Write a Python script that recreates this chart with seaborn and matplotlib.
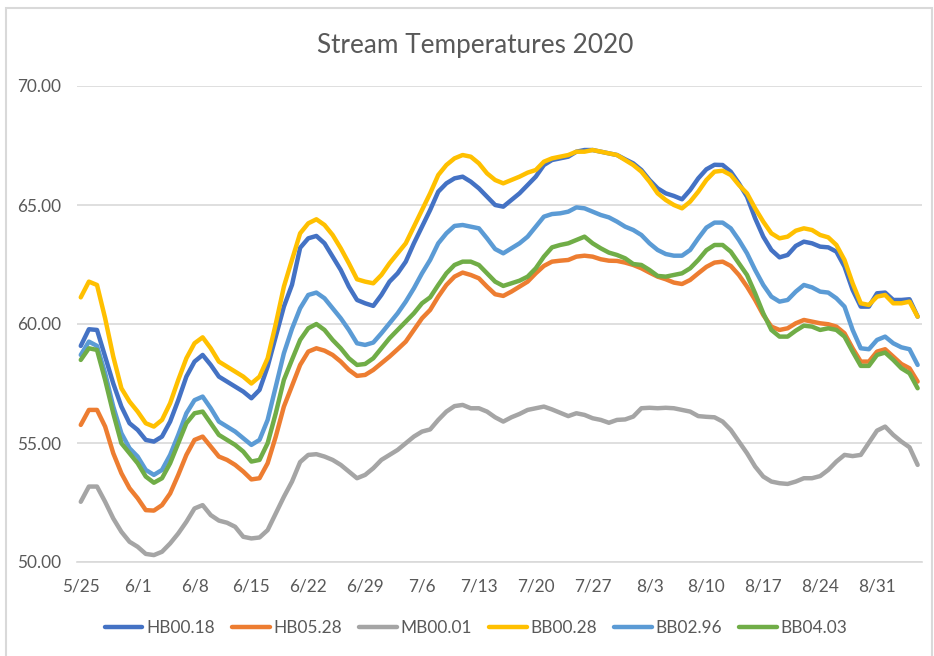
import pandas as pd
import numpy as np
import matplotlib
matplotlib.use('Agg')
import matplotlib.pyplot as plt
from matplotlib.patches import Rectangle
import seaborn as sns

# daily readings, 5/25 .. 9/5 (104 days)
start_date = '2020-05-25'
n_days = 104

hb00_18 = [59.08, 59.78, 59.75, 58.63, 57.5, 56.53, 55.83, 55.55, 55.13, 55.06, 55.27, 55.9, 56.8, 57.79, 58.42, 58.7, 58.28, 57.79, 57.58, 57.37, 57.16, 56.88, 57.23, 58.21, 59.47, 60.73, 61.65,
           63.2, 63.6, 63.7, 63.39, 62.83, 62.27, 61.57, 61.01, 60.87, 60.76, 61.22, 61.78, 62.13, 62.62, 63.39, 64.09, 64.79, 65.56, 65.91, 66.12, 66.19, 65.98, 65.7, 65.35, 65.0,
           64.93, 65.21, 65.49, 65.84, 66.19, 66.68, 66.89, 66.96, 67.03, 67.24, 67.31, 67.31, 67.24, 67.17, 67.1, 66.92, 66.75, 66.47, 66.05, 65.7, 65.49, 65.38, 65.24, 65.63, 66.12,
           66.5, 66.69, 66.68, 66.4, 65.91, 65.35, 64.44, 63.67, 63.11, 62.8, 62.9, 63.28, 63.46, 63.39, 63.25, 63.22, 63.04, 62.41, 61.43, 60.73, 60.73, 61.29, 61.32, 61.01, 61.01, 61.04, 60.31]
hb05_28 = [55.76, 56.39, 56.39, 55.69, 54.57, 53.73, 53.1, 52.68, 52.18, 52.16, 52.39, 52.88, 53.66, 54.5, 55.13, 55.27, 54.85, 54.43, 54.29, 54.08, 53.8, 53.47, 53.52, 54.15, 55.27, 56.53, 57.4,
           58.28, 58.84, 58.98, 58.88, 58.7, 58.42, 58.07, 57.82, 57.86, 58.07, 58.35, 58.63, 58.94, 59.26, 59.75, 60.24, 60.59, 61.15, 61.64, 61.99, 62.16, 62.06, 61.92, 61.57, 61.25,
           61.18, 61.36, 61.57, 61.78, 62.13, 62.44, 62.62, 62.66, 62.69, 62.83, 62.87, 62.83, 62.72, 62.66, 62.65, 62.58, 62.48, 62.34, 62.16, 61.99, 61.88, 61.74, 61.68, 61.85, 62.13,
           62.4, 62.58, 62.62, 62.44, 62.06, 61.57, 61.01, 60.38, 59.89, 59.75, 59.82, 60.03, 60.17, 60.1, 60.03, 59.99, 59.89, 59.61, 58.98, 58.42, 58.42, 58.84, 58.94, 58.63, 58.32, 58.14, 57.58]
mb00_01 = [52.53, 53.17, 53.17, 52.53, 51.83, 51.27, 50.85, 50.64, 50.34, 50.29, 50.43, 50.78, 51.2, 51.69, 52.25, 52.39, 51.97, 51.74, 51.65, 51.48, 51.06, 50.99, 51.03, 51.34, 52.04, 52.74, 53.38,
           54.2, 54.5, 54.53, 54.43, 54.29, 54.08, 53.8, 53.52, 53.66, 53.94, 54.29, 54.5, 54.71, 54.99, 55.27, 55.48, 55.57, 55.97, 56.32, 56.55, 56.6, 56.46, 56.46, 56.32, 56.08,
           55.9, 56.08, 56.22, 56.39, 56.46, 56.53, 56.41, 56.27, 56.13, 56.25, 56.18, 56.04, 55.97, 55.85, 55.97, 55.99, 56.11, 56.46, 56.48, 56.46, 56.48, 56.46, 56.39, 56.32, 56.13,
           56.1, 56.08, 55.9, 55.55, 55.06, 54.57, 54.01, 53.59, 53.38, 53.31, 53.28, 53.38, 53.52, 53.52, 53.61, 53.87, 54.22, 54.5, 54.45, 54.5, 55.01, 55.52, 55.69, 55.34, 55.06, 54.82, 54.08]
bb00_28 = [61.12, 61.78, 61.64, 60.24, 58.63, 57.3, 56.74, 56.32, 55.83, 55.69, 55.97, 56.67, 57.65, 58.56, 59.19, 59.44, 58.98, 58.42, 58.21, 58.0, 57.79, 57.5, 57.79, 58.56, 60.0, 61.57, 62.7,
           63.81, 64.23, 64.4, 64.16, 63.74, 63.18, 62.55, 61.88, 61.78, 61.71, 62.06, 62.55, 62.97, 63.39, 64.09, 64.79, 65.49, 66.26, 66.68, 66.96, 67.1, 67.03, 66.75, 66.33, 66.05,
           65.91, 66.05, 66.19, 66.36, 66.47, 66.82, 66.96, 67.03, 67.1, 67.24, 67.24, 67.31, 67.24, 67.17, 67.1, 66.89, 66.68, 66.4, 65.98, 65.49, 65.21, 65.0, 64.86, 65.14, 65.56,
           66.05, 66.4, 66.44, 66.26, 65.84, 65.49, 64.86, 64.3, 63.81, 63.6, 63.67, 63.92, 64.02, 63.95, 63.74, 63.64, 63.32, 62.69, 61.71, 60.87, 60.8, 61.15, 61.22, 60.87, 60.87, 60.94, 60.31]
bb02_96 = [58.7, 59.26, 59.08, 57.93, 56.53, 55.41, 54.78, 54.43, 53.87, 53.66, 53.87, 54.5, 55.34, 56.25, 56.8, 56.95, 56.46, 55.9, 55.69, 55.48, 55.2, 54.92, 55.13, 55.97, 57.37, 58.77, 59.8,
           60.66, 61.22, 61.32, 61.08, 60.66, 60.24, 59.75, 59.19, 59.12, 59.22, 59.61, 60.03, 60.45, 60.94, 61.5, 62.13, 62.69, 63.39, 63.81, 64.12, 64.16, 64.09, 64.02, 63.6, 63.15,
           62.97, 63.18, 63.39, 63.67, 64.09, 64.51, 64.62, 64.65, 64.72, 64.9, 64.86, 64.72, 64.58, 64.48, 64.3, 64.09, 63.95, 63.74, 63.39, 63.11, 62.94, 62.87, 62.87, 63.11, 63.6,
           64.05, 64.26, 64.26, 64.02, 63.53, 62.97, 62.27, 61.64, 61.15, 60.94, 61.01, 61.36, 61.64, 61.54, 61.36, 61.32, 61.08, 60.73, 59.75, 58.98, 58.94, 59.33, 59.47, 59.19, 59.02, 58.94, 58.28]
bb04_03 = [58.49, 58.98, 58.91, 57.65, 56.25, 54.99, 54.57, 54.15, 53.59, 53.33, 53.52, 54.15, 54.99, 55.83, 56.25, 56.32, 55.83, 55.34, 55.13, 54.92, 54.64, 54.22, 54.29, 54.99, 56.25, 57.65, 58.5,
           59.33, 59.82, 60.0, 59.75, 59.33, 58.98, 58.56, 58.28, 58.32, 58.56, 58.98, 59.4, 59.75, 60.1, 60.45, 60.87, 61.12, 61.64, 62.13, 62.48, 62.62, 62.62, 62.48, 62.13, 61.78,
           61.6, 61.71, 61.82, 61.99, 62.34, 62.83, 63.22, 63.32, 63.39, 63.53, 63.67, 63.39, 63.18, 63.0, 62.9, 62.76, 62.52, 62.48, 62.27, 62.02, 61.99, 62.06, 62.13, 62.34, 62.69,
           63.1, 63.32, 63.32, 63.04, 62.55, 62.06, 61.29, 60.45, 59.75, 59.47, 59.47, 59.72, 59.93, 59.89, 59.75, 59.82, 59.75, 59.47, 58.84, 58.24, 58.24, 58.7, 58.8, 58.49, 58.14, 57.93, 57.3]

site_names = ['HB00.18', 'HB05.28', 'MB00.01', 'BB00.28', 'BB02.96', 'BB04.03']
site_colors = ['#4472C4', '#ED7D31', '#A5A5A5', '#FFC000', '#5B9BD5', '#70AD47']
y_ticks = [50, 55, 60, 65, 70]

dates = pd.date_range(start_date, periods=n_days, freq='D')
wide = pd.DataFrame(dict(zip(site_names, [hb00_18, hb05_28, mb00_01, bb00_28, bb02_96, bb04_03])), index=dates)
wide.index.name = 'date'
df = wide.reset_index().melt(id_vars='date', var_name='site', value_name='temp')

sns.set_style('white')
plt.rcParams['font.family'] = ['Lato', 'DejaVu Sans']
txt = '#595959'
grid = '#D9D9D9'

fig = plt.figure(figsize=(9.34, 6.56), dpi=100)
ax = fig.add_axes([76.7 / 934, 1 - 562 / 656, (921.7 - 76.7) / 934, (562 - 86) / 656])

sns.lineplot(data=df, x='date', y='temp', hue='site', hue_order=site_names, palette=site_colors,
             linewidth=3.2, estimator=None, sort=False, legend=False, ax=ax)

half = pd.Timedelta(hours=12)
ax.set_xlim(dates[0] - half, dates[-1] + half)
ax.set_ylim(50, 70)
ax.set_yticks(y_ticks)
ax.set_yticklabels([f'{v:.2f}' for v in y_ticks])
week_dates = dates[::7]
ax.set_xticks(week_dates)
ax.set_xticklabels([f'{d.month}/{d.day}' for d in week_dates])
ax.set_xticks(week_dates - half, minor=True)
ax.tick_params(axis='x', which='major', length=0, pad=12, labelsize=12.4, labelcolor=txt)
ax.tick_params(axis='x', which='minor', length=5, width=1, color=grid, direction='out')
ax.tick_params(axis='y', length=0, pad=11, labelsize=12.4, labelcolor=txt)
ax.set_xlabel('')
ax.set_ylabel('')
ax.yaxis.grid(True, color=grid, linewidth=1.2)
ax.set_axisbelow(True)
for side in ['top', 'right', 'left']:
    ax.spines[side].set_visible(False)
ax.spines['bottom'].set_color(grid)
ax.spines['bottom'].set_linewidth(1.2)

fig.text(475 / 934, 1 - 45 / 656, 'Stream Temperatures 2020', ha='center', va='center', fontsize=18.8, color=txt)

handles = ax.get_lines()[:len(site_names)]
fig.legend(handles, site_names, loc='center', bbox_to_anchor=(476 / 934, 1 - 628 / 656), ncol=6, frameon=False,
           fontsize=12.4, labelcolor=txt, handlelength=2.2, handletextpad=0.2, columnspacing=1.0)

# chart frame as in the spreadsheet screenshot
fig.add_artist(Rectangle((6 / 934, -0.05), (932 - 6) / 934, (656 - 8) / 656 + 0.05, transform=fig.transFigure,
                         fill=False, edgecolor=grid, linewidth=1.5))

fig.savefig('out.png', dpi=100)
